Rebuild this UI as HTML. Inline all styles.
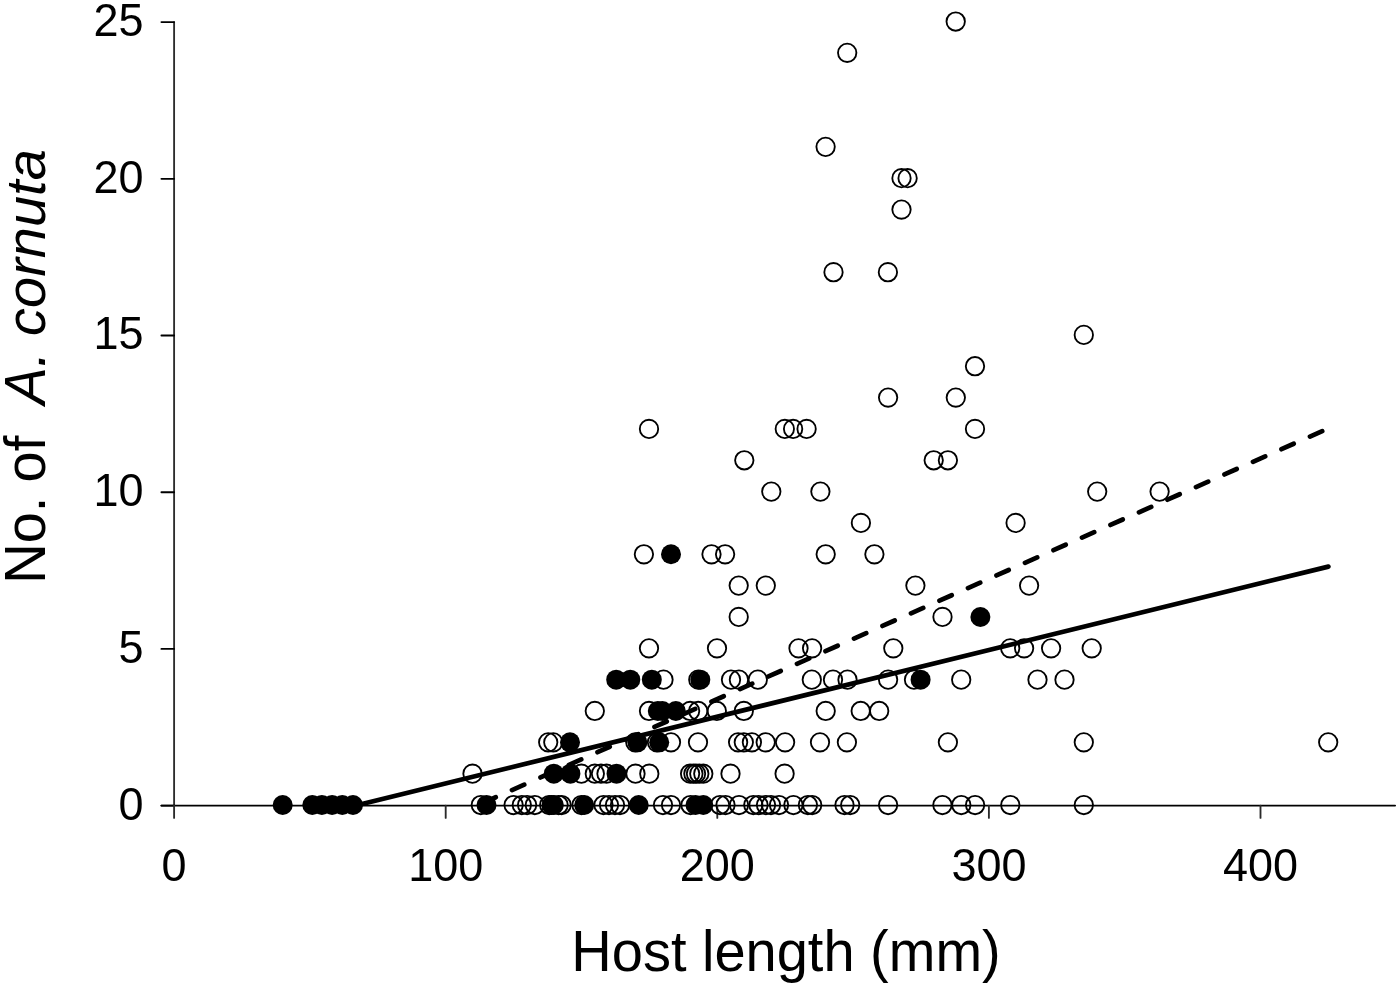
<!DOCTYPE html>
<html><head><meta charset="utf-8"><style>
html,body{margin:0;padding:0;background:#fff;}
body{width:1400px;height:987px;overflow:hidden;font-family:"Liberation Sans",sans-serif;}
svg{display:block;will-change:transform;}
</style></head><body>
<svg width="1400" height="987" viewBox="0 0 1400 987">
<rect width="1400" height="987" fill="#fff"/>
<g stroke="#000" stroke-width="1.85" fill="none" stroke-linecap="round" stroke-linejoin="round">
<line x1="174.1" y1="22.1" x2="174.1" y2="805.6" stroke="#2c2c2c"/>
<line x1="161.4" y1="805.6" x2="1395.1" y2="805.6"/>
<line x1="161.4" y1="805.6" x2="174.1" y2="805.6"/>
<line x1="161.4" y1="648.9" x2="174.1" y2="648.9"/>
<line x1="161.4" y1="492.2" x2="174.1" y2="492.2"/>
<line x1="161.4" y1="335.5" x2="174.1" y2="335.5"/>
<line x1="161.4" y1="178.8" x2="174.1" y2="178.8"/>
<line x1="161.4" y1="22.1" x2="174.1" y2="22.1"/>
<line x1="174.1" y1="805.6" x2="174.1" y2="817.9" stroke="#2a2a2a"/>
<line x1="445.7" y1="805.6" x2="445.7" y2="817.9" stroke="#2a2a2a"/>
<line x1="717.3" y1="805.6" x2="717.3" y2="817.9" stroke="#2a2a2a"/>
<line x1="988.9" y1="805.6" x2="988.9" y2="817.9" stroke="#2a2a2a"/>
<line x1="1260.5" y1="805.6" x2="1260.5" y2="817.9" stroke="#2a2a2a"/>
</g>
<g fill="none" stroke="#000" stroke-width="1.85">
<circle cx="955.7" cy="21.5" r="9.2"/>
<circle cx="847.2" cy="52.84" r="9.2"/>
<circle cx="825.6" cy="146.86" r="9.2"/>
<circle cx="901.5" cy="178.2" r="9.2"/>
<circle cx="907.6" cy="178.2" r="9.2"/>
<circle cx="901.5" cy="209.54" r="9.2"/>
<circle cx="833.5" cy="272.22" r="9.2"/>
<circle cx="887.9" cy="272.22" r="9.2"/>
<circle cx="1083.8" cy="334.9" r="9.2"/>
<circle cx="975" cy="366.24" r="9.2"/>
<circle cx="888.1" cy="397.58" r="9.2"/>
<circle cx="955.8" cy="397.58" r="9.2"/>
<circle cx="649" cy="428.92" r="9.2"/>
<circle cx="784.8" cy="428.92" r="9.2"/>
<circle cx="793.1" cy="428.92" r="9.2"/>
<circle cx="806.6" cy="428.92" r="9.2"/>
<circle cx="975" cy="428.92" r="9.2"/>
<circle cx="744.3" cy="460.26" r="9.2"/>
<circle cx="933.7" cy="460.26" r="9.2"/>
<circle cx="947.9" cy="460.26" r="9.2"/>
<circle cx="771.3" cy="491.6" r="9.2"/>
<circle cx="820.4" cy="491.6" r="9.2"/>
<circle cx="1097.2" cy="491.6" r="9.2"/>
<circle cx="1159.6" cy="491.6" r="9.2"/>
<circle cx="860.9" cy="522.94" r="9.2"/>
<circle cx="1015.6" cy="522.94" r="9.2"/>
<circle cx="643.9" cy="554.28" r="9.2"/>
<circle cx="711.5" cy="554.28" r="9.2"/>
<circle cx="725.1" cy="554.28" r="9.2"/>
<circle cx="825.7" cy="554.28" r="9.2"/>
<circle cx="874.4" cy="554.28" r="9.2"/>
<circle cx="738.7" cy="585.62" r="9.2"/>
<circle cx="765.8" cy="585.62" r="9.2"/>
<circle cx="915.4" cy="585.62" r="9.2"/>
<circle cx="1029.1" cy="585.62" r="9.2"/>
<circle cx="738.7" cy="616.96" r="9.2"/>
<circle cx="942.5" cy="616.96" r="9.2"/>
<circle cx="649" cy="648.3" r="9.2"/>
<circle cx="717" cy="648.3" r="9.2"/>
<circle cx="798.5" cy="648.3" r="9.2"/>
<circle cx="812.1" cy="648.3" r="9.2"/>
<circle cx="893.3" cy="648.3" r="9.2"/>
<circle cx="1010.2" cy="648.3" r="9.2"/>
<circle cx="1024.1" cy="648.3" r="9.2"/>
<circle cx="1051.1" cy="648.3" r="9.2"/>
<circle cx="1091.7" cy="648.3" r="9.2"/>
<circle cx="663.5" cy="679.64" r="9.2"/>
<circle cx="698.3" cy="679.64" r="9.2"/>
<circle cx="731" cy="679.64" r="9.2"/>
<circle cx="738.9" cy="679.64" r="9.2"/>
<circle cx="757.8" cy="679.64" r="9.2"/>
<circle cx="811.8" cy="679.64" r="9.2"/>
<circle cx="833" cy="679.64" r="9.2"/>
<circle cx="847.5" cy="679.64" r="9.2"/>
<circle cx="888.1" cy="679.64" r="9.2"/>
<circle cx="914" cy="679.64" r="9.2"/>
<circle cx="961.2" cy="679.64" r="9.2"/>
<circle cx="1037.5" cy="679.64" r="9.2"/>
<circle cx="1064.5" cy="679.64" r="9.2"/>
<circle cx="594.8" cy="710.98" r="9.2"/>
<circle cx="649" cy="710.98" r="9.2"/>
<circle cx="690.1" cy="710.98" r="9.2"/>
<circle cx="698.2" cy="710.98" r="9.2"/>
<circle cx="716.8" cy="710.98" r="9.2"/>
<circle cx="743.8" cy="710.98" r="9.2"/>
<circle cx="825.7" cy="710.98" r="9.2"/>
<circle cx="860.7" cy="710.98" r="9.2"/>
<circle cx="879.2" cy="710.98" r="9.2"/>
<circle cx="548.2" cy="742.32" r="9.2"/>
<circle cx="553.3" cy="742.32" r="9.2"/>
<circle cx="635.3" cy="742.32" r="9.2"/>
<circle cx="657" cy="742.32" r="9.2"/>
<circle cx="671" cy="742.32" r="9.2"/>
<circle cx="698" cy="742.32" r="9.2"/>
<circle cx="738.1" cy="742.32" r="9.2"/>
<circle cx="743.8" cy="742.32" r="9.2"/>
<circle cx="751.9" cy="742.32" r="9.2"/>
<circle cx="765.7" cy="742.32" r="9.2"/>
<circle cx="785.1" cy="742.32" r="9.2"/>
<circle cx="820" cy="742.32" r="9.2"/>
<circle cx="846.9" cy="742.32" r="9.2"/>
<circle cx="947.9" cy="742.32" r="9.2"/>
<circle cx="1083.8" cy="742.32" r="9.2"/>
<circle cx="1328.2" cy="742.32" r="9.2"/>
<circle cx="472.5" cy="773.66" r="9.2"/>
<circle cx="581.4" cy="773.66" r="9.2"/>
<circle cx="594.8" cy="773.66" r="9.2"/>
<circle cx="601" cy="773.66" r="9.2"/>
<circle cx="606.5" cy="773.66" r="9.2"/>
<circle cx="635.5" cy="773.66" r="9.2"/>
<circle cx="649.3" cy="773.66" r="9.2"/>
<circle cx="690.1" cy="773.66" r="9.2"/>
<circle cx="693.4" cy="773.66" r="9.2"/>
<circle cx="696" cy="773.66" r="9.2"/>
<circle cx="699.3" cy="773.66" r="9.2"/>
<circle cx="703.3" cy="773.66" r="9.2"/>
<circle cx="730.5" cy="773.66" r="9.2"/>
<circle cx="784.6" cy="773.66" r="9.2"/>
<circle cx="480.8" cy="805" r="9.2"/>
<circle cx="513.6" cy="805" r="9.2"/>
<circle cx="521.8" cy="805" r="9.2"/>
<circle cx="527.1" cy="805" r="9.2"/>
<circle cx="534.8" cy="805" r="9.2"/>
<circle cx="549.2" cy="805" r="9.2"/>
<circle cx="558.6" cy="805" r="9.2"/>
<circle cx="561.6" cy="805" r="9.2"/>
<circle cx="581.5" cy="805" r="9.2"/>
<circle cx="603.5" cy="805" r="9.2"/>
<circle cx="609" cy="805" r="9.2"/>
<circle cx="615" cy="805" r="9.2"/>
<circle cx="620" cy="805" r="9.2"/>
<circle cx="663" cy="805" r="9.2"/>
<circle cx="671" cy="805" r="9.2"/>
<circle cx="690.5" cy="805" r="9.2"/>
<circle cx="720" cy="805" r="9.2"/>
<circle cx="725.5" cy="805" r="9.2"/>
<circle cx="739" cy="805" r="9.2"/>
<circle cx="753.3" cy="805" r="9.2"/>
<circle cx="758.5" cy="805" r="9.2"/>
<circle cx="766" cy="805" r="9.2"/>
<circle cx="771" cy="805" r="9.2"/>
<circle cx="779" cy="805" r="9.2"/>
<circle cx="793.4" cy="805" r="9.2"/>
<circle cx="807.9" cy="805" r="9.2"/>
<circle cx="812.2" cy="805" r="9.2"/>
<circle cx="844.5" cy="805" r="9.2"/>
<circle cx="850.2" cy="805" r="9.2"/>
<circle cx="888.1" cy="805" r="9.2"/>
<circle cx="942.4" cy="805" r="9.2"/>
<circle cx="961.3" cy="805" r="9.2"/>
<circle cx="975.1" cy="805" r="9.2"/>
<circle cx="1010.3" cy="805" r="9.2"/>
<circle cx="1083.8" cy="805" r="9.2"/>
</g>
<g fill="#000">
<circle cx="671" cy="554.28" r="10.0"/>
<circle cx="980.4" cy="616.96" r="10.0"/>
<circle cx="616.2" cy="679.64" r="10.0"/>
<circle cx="630.3" cy="679.64" r="10.0"/>
<circle cx="651.8" cy="679.64" r="10.0"/>
<circle cx="700.3" cy="679.64" r="10.0"/>
<circle cx="920.6" cy="679.64" r="10.0"/>
<circle cx="657.8" cy="710.98" r="10.0"/>
<circle cx="662.4" cy="710.98" r="10.0"/>
<circle cx="675.8" cy="710.98" r="10.0"/>
<circle cx="570" cy="742.32" r="10.0"/>
<circle cx="637.4" cy="742.32" r="10.0"/>
<circle cx="659.2" cy="742.32" r="10.0"/>
<circle cx="553.8" cy="773.66" r="10.0"/>
<circle cx="570.4" cy="773.66" r="10.0"/>
<circle cx="616.5" cy="773.66" r="10.0"/>
<circle cx="282.7" cy="805" r="10.0"/>
<circle cx="312.3" cy="805" r="10.0"/>
<circle cx="321.9" cy="805" r="10.0"/>
<circle cx="332.1" cy="805" r="10.0"/>
<circle cx="342.3" cy="805" r="10.0"/>
<circle cx="353" cy="805" r="10.0"/>
<circle cx="486.5" cy="805" r="10.0"/>
<circle cx="551.5" cy="805" r="10.0"/>
<circle cx="553.8" cy="805" r="10.0"/>
<circle cx="584.2" cy="805" r="10.0"/>
<circle cx="638.7" cy="805" r="10.0"/>
<circle cx="695.5" cy="805" r="10.0"/>
<circle cx="703.3" cy="805" r="10.0"/>
</g>
<line x1="362" y1="804" x2="1328.4" y2="566.6" stroke="#000" stroke-width="4.7" stroke-linecap="round"/>
<line x1="483.5" y1="802.7" x2="1328.4" y2="428.4" stroke="#000" stroke-width="4.7" stroke-linecap="round" stroke-dasharray="13.4 17.77"/>
<g font-family="Liberation Sans, sans-serif" font-size="45" text-anchor="end" fill="#000">
<text transform="translate(143.5,819.5) scale(1,1.04)">0</text>
<text transform="translate(143.5,662.8) scale(1,1.04)">5</text>
<text transform="translate(143.5,506.1) scale(1,1.04)">10</text>
<text transform="translate(143.5,349.4) scale(1,1.04)">15</text>
<text transform="translate(143.5,192.7) scale(1,1.04)">20</text>
<text transform="translate(143.5,36) scale(1,1.04)">25</text>
</g>
<g font-family="Liberation Sans, sans-serif" font-size="45" text-anchor="middle" fill="#000">
<text transform="translate(174.1,880.5) scale(1,1.04)">0</text>
<text transform="translate(445.7,880.5) scale(1,1.04)">100</text>
<text transform="translate(717.3,880.5) scale(1,1.04)">200</text>
<text transform="translate(988.9,880.5) scale(1,1.04)">300</text>
<text transform="translate(1260.5,880.5) scale(1,1.04)">400</text>
</g>
<text transform="translate(786,971.4) scale(1,1.04)" font-family="Liberation Sans, sans-serif" font-size="56" text-anchor="middle" fill="#000">Host length (mm)</text>
<text transform="translate(44.5,583.8) rotate(-90) scale(1,1.04)" font-family="Liberation Sans, sans-serif" font-size="56" fill="#000">No.</text>
<text transform="translate(44.5,482.5) rotate(-90) scale(1,1.04)" font-family="Liberation Sans, sans-serif" font-size="56" fill="#000">of</text>
<text transform="translate(44.5,404.5) rotate(-90) scale(1,1.04)" font-family="Liberation Sans, sans-serif" font-size="56" font-style="italic" fill="#000">A.</text>
<text transform="translate(44.5,336.0) rotate(-90) scale(1,1.0)" font-family="Liberation Sans, sans-serif" font-size="56" font-style="italic" fill="#000">cornuta</text>
</svg>
</body></html>
